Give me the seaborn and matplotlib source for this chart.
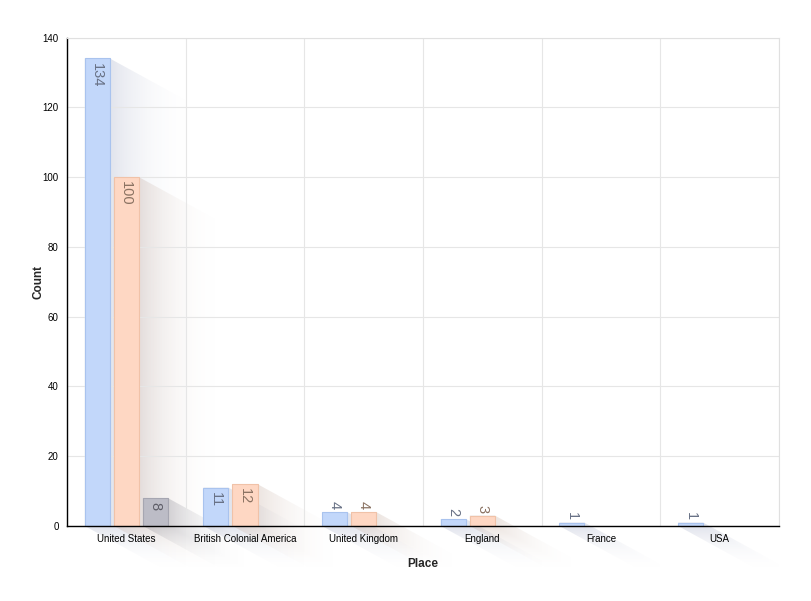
import matplotlib

matplotlib.use("Agg")
import matplotlib.pyplot as plt
import numpy as np
import pandas as pd
import seaborn as sns
from matplotlib.patches import Polygon

places = ["United States", "British Colonial America", "United Kingdom", "England", "France", "USA"]
series_names = ["Series 1", "Series 2", "Series 3"]
series_1 = [134, 11, 4, 2, 1, 1]
series_2 = [100, 12, 4, 3, None, None]
series_3 = [8, None, None, None, None, None]

bar_colors = ["#c2d7fa", "#fed7c3", "#bcbcc6"]
edge_colors = ["#a9c3ee", "#f0c2a8", "#a6a6b1"]
label_colors = ["#687185", "#8a7262", "#5e5e68"]
shadow_colors = ["#8c96b8", "#b89a8a", "#6e6e7c"]

rows = []
for name, vals in zip(series_names, [series_1, series_2, series_3]):
    for place, v in zip(places, vals):
        if v is not None:
            rows.append({"Place": place, "Series": name, "Count": v})
df = pd.DataFrame(rows)

sns.set_theme(style="white")
plt.rcParams["font.family"] = ["Liberation Sans", "DejaVu Sans"]

W, H = 811, 601
fig = plt.figure(figsize=(W / 100, H / 100), dpi=100)
fig.patch.set_facecolor("white")

# background axes for the long shadows (pixel coordinates)
sax = fig.add_axes([0, 0, 1, 1], zorder=0)
sax.set_xlim(0, W)
sax.set_ylim(0, H)
sax.axis("off")

ax = fig.add_axes([67 / W, 1 - 526 / H, 712 / W, 488.5 / H], zorder=1)
ax.set_facecolor("none")

sns.barplot(
    data=df, x="Place", y="Count", hue="Series",
    order=places, hue_order=series_names,
    palette=bar_colors, width=0.735, gap=0.14,
    legend=False, ax=ax, saturation=1,
)

ax.set_xlim(-0.5, len(places) - 0.5)
ax.set_ylim(0, 140)
ax.set_yticks(range(0, 141, 20))
ax.tick_params(axis="both", length=0, labelsize=7, colors="black")
ax.tick_params(axis="x", pad=6)
ax.tick_params(axis="y", pad=6)
for b in np.arange(-0.5, len(places), 1.0):
    ax.axvline(b, color="#e6e6e6", lw=0.8, zorder=0)
ax.yaxis.grid(True, color="#e6e6e6", lw=0.8)
ax.set_axisbelow(True)
for side in ["top", "right"]:
    ax.spines[side].set_color("#e0e0e0")
    ax.spines[side].set_linewidth(0.8)
for side in ["left", "bottom"]:
    ax.spines[side].set_color("black")
    ax.spines[side].set_linewidth(1.0)

ax.set_xlabel("Place", fontsize=8.5, fontweight="bold", labelpad=10)
ax.set_ylabel("Count", fontsize=8.5, fontweight="bold")
ax.yaxis.set_label_coords(-0.031, 0.5)

# style bars and add value labels
for i, container in enumerate(ax.containers):
    for patch, val in zip(container.patches, container.datavalues):
        if np.isnan(val):
            continue
        patch.set_edgecolor(edge_colors[i])
        patch.set_linewidth(0.8)
        xc = patch.get_x() + patch.get_width() / 2
        top = patch.get_height()
        if val >= 8:
            ax.annotate(f"{val:g}", (xc, top), xytext=(0, -3), textcoords="offset points",
                        rotation=270, ha="center", va="top", fontsize=10.5, color=label_colors[i])
        else:
            ax.annotate(f"{val:g}", (xc, top), xytext=(0, 2), textcoords="offset points",
                        rotation=270, ha="center", va="bottom", fontsize=10.5, color=label_colors[i])

# long fading shadows, computed from the drawn bar positions
fig.canvas.draw()
dx, dy = 95.0, 52.0
for i, container in enumerate(ax.containers):
    rgb = np.array(matplotlib.colors.to_rgb(shadow_colors[i]))
    for patch, val in zip(container.patches, container.datavalues):
        if np.isnan(val):
            continue
        bb = patch.get_window_extent()
        x0, x1, y0, y1 = bb.x0, bb.x1, bb.y0, bb.y1
        hull = [(x0, y1), (x1, y1), (x1 + dx, y1 - dy), (x1 + dx, y0 - dy), (x0 + dx, y0 - dy), (x0, y0)]
        gx = np.arange(np.floor(x0), np.ceil(x1 + dx) + 1)
        gy = np.arange(np.floor(y0 - dy), np.ceil(y1) + 1)
        XX, YY = np.meshgrid(gx, gy)
        s = np.maximum((XX - x1) / dx, (y0 - YY) / dy)
        s = np.clip(s, 0, 1)
        alpha = 0.26 * (1 - s) ** 2.6
        img = np.zeros(XX.shape + (4,))
        img[..., :3] = rgb
        img[..., 3] = alpha
        im = sax.imshow(img, extent=(gx[0], gx[-1], gy[0], gy[-1]), origin="lower",
                        interpolation="bilinear", aspect="auto")
        poly = Polygon(hull, closed=True, transform=sax.transData)
        im.set_clip_path(poly)

sax.set_xlim(0, W)
sax.set_ylim(0, H)

fig.savefig("out.png", dpi=100)
